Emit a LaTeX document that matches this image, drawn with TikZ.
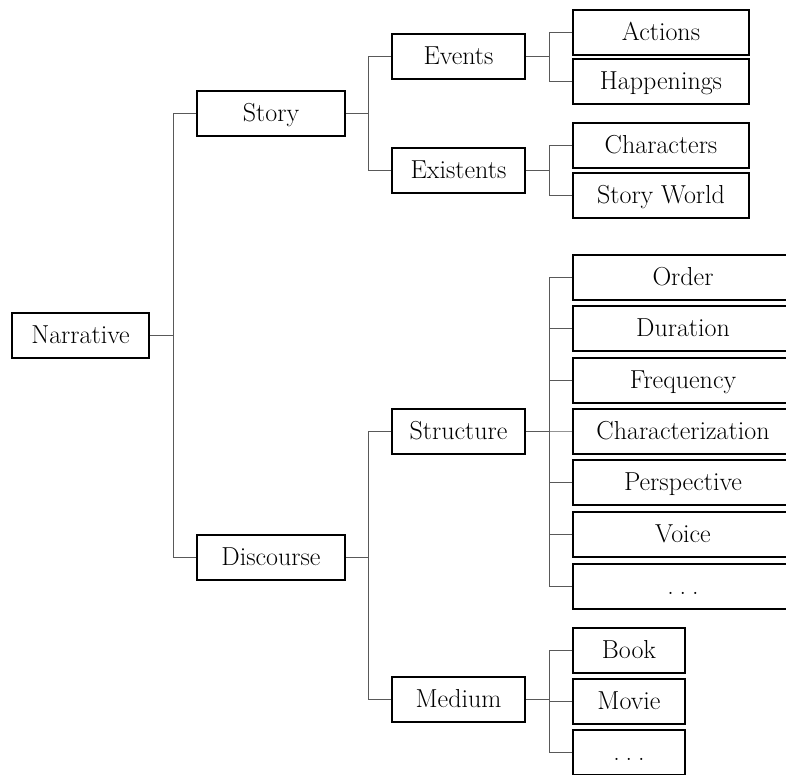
\documentclass[tikz,border=0pt]{standalone}
\begin{document}
\begin{tikzpicture}[x=1pt,y=-1pt,
  box/.style={draw=black,line width=2pt,fill=white,inner sep=0pt,
    minimum height=45pt,text height=20pt,text depth=4pt,
    font=\fontsize{26}{30}\selectfont},
  link/.style={draw=black!65,line width=1pt}]
\newcommand{\spreaddots}{.\kern6pt.\kern6pt.}
\useasboundingbox (0,0) rectangle (786,774);
\clip (0,0) rectangle (786,774);

% root and first level
\node[box,minimum width=137pt] (nar) at (80.5,335) {Narrative};
\node[box,minimum width=148pt] (story) at (271,113) {Story};
\node[box,minimum width=148pt] (disc) at (271,557) {Discourse};

% second level
\node[box,minimum width=133pt] (events) at (458.5,56.5) {Events};
\node[box,minimum width=133pt] (exist) at (458.5,170.5) {Existents};
\node[box,minimum width=133pt] (struct) at (458.5,431) {Structure};
\node[box,minimum width=133pt] (medium) at (458.5,699.5) {Medium};

% leaves of the story branch
\node[box,minimum width=176pt] (actions) at (661,32) {Actions};
\node[box,minimum width=176pt] (happen) at (661,81.5) {Happenings};
\node[box,minimum width=176pt] (chars) at (661,145) {Characters};
\node[box,minimum width=176pt] (world) at (661,195.5) {Story World};

% leaves of the structure branch
\node[box,minimum width=220pt] (order) at (683,277) {Order};
\node[box,minimum width=220pt] (dur) at (683,328.5) {Duration};
\node[box,minimum width=220pt] (freq) at (683,380) {Frequency};
\node[box,minimum width=220pt] (charz) at (683,431) {Characterization};
\node[box,minimum width=220pt] (persp) at (683,482.5) {Perspective};
\node[box,minimum width=220pt] (voice) at (683,534) {Voice};
\node[box,minimum width=220pt] (sdots) at (683,586) {\spreaddots};

% leaves of the medium branch
\node[box,minimum width=112pt] (book) at (629,650) {Book};
\node[box,minimum width=112pt] (movie) at (629,701) {Movie};
\node[box,minimum width=112pt] (mdots) at (629,752) {\spreaddots};

% elbow connectors from each child back to its parent
\foreach \c/\p in {story/nar,disc/nar,
  events/story,exist/story,struct/disc,medium/disc,
  actions/events,happen/events,chars/exist,world/exist,
  order/struct,dur/struct,freq/struct,charz/struct,persp/struct,voice/struct,sdots/struct,
  book/medium,movie/medium,mdots/medium}
  \draw[link] (\c.west) -- ++(-23,0) |- (\p.east);
\end{tikzpicture}
\end{document}
